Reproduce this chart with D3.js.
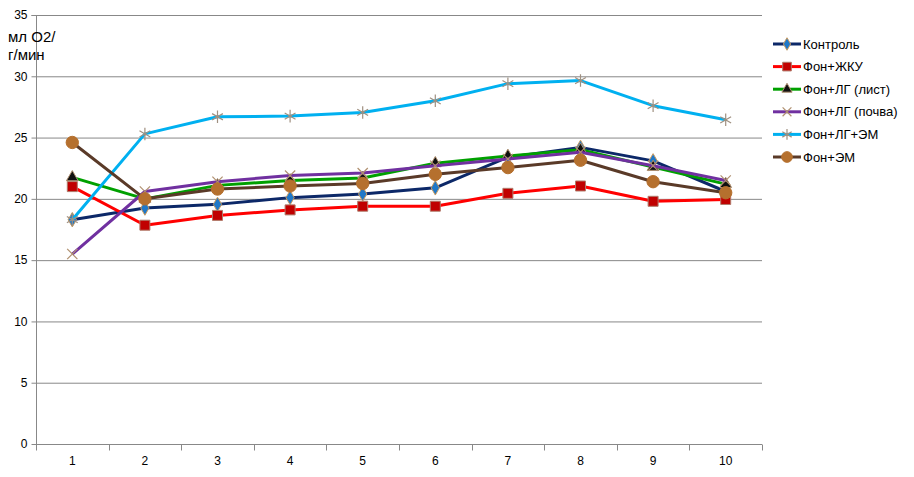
<!DOCTYPE html>
<html><head><meta charset="utf-8">
<script src="https://cdn.jsdelivr.net/npm/d3@7"></script>
<style>body{margin:0;background:#fff}svg{display:block}text{font-family:"Liberation Sans",Arial,sans-serif}</style>
</head><body>
<svg id="c" width="914" height="477"></svg>
<script>
const categories = [1,2,3,4,5,6,7,8,9,10];
const yTicks = [0,5,10,15,20,25,30,35];
const seriesNames = ["Контроль","Фон+ЖКУ","Фон+ЛГ (лист)","Фон+ЛГ (почва)","Фон+ЛГ+ЭМ","Фон+ЭМ"];
const kontrol   = [18.3,19.25,19.55,20.1,20.4,20.9,23.4,24.2,23.1,20.6];
const fonZhku   = [21.0,17.85,18.65,19.1,19.4,19.4,20.45,21.05,19.8,19.95];
const fonLgList = [21.75,20.0,21.1,21.5,21.7,22.9,23.5,24.0,22.6,21.2];
const fonLgPoch = [15.5,20.6,21.4,21.9,22.1,22.7,23.25,23.8,22.7,21.5];
const fonLgEm   = [18.3,25.3,26.7,26.75,27.05,28.0,29.4,29.65,27.6,26.45];
const fonEm     = [24.6,20.0,20.8,21.05,21.25,22.0,22.55,23.15,21.4,20.5];
const yLabel = ["мл О2/","г/мин"];

const styles = [
  {line:"#0c2868", sym:d3.symbolDiamond, size:60, fill:"#1f78c8", stroke:"#c89a60", sw:1},
  {line:"#ff0000", sym:d3.symbolSquare, size:100, fill:"#c00000", stroke:"#b07a6a", sw:1},
  {line:"#00a000", sym:d3.symbolTriangle, size:60, fill:"#101010", stroke:"#b09070", sw:1},
  {line:"#7030a0", sym:d3.symbolX, size:70, fill:"none", stroke:"#b09070", sw:1.2},
  {line:"#00b0f0", sym:d3.symbolAsterisk, size:110, fill:"none", stroke:"#a09080", sw:1.2},
  {line:"#5a3a28", sym:d3.symbolCircle, size:120, fill:"#b5702e", stroke:"#b5702e", sw:1}
];
const data = [kontrol,fonZhku,fonLgList,fonLgPoch,fonLgEm,fonEm];

const svg = d3.select("#c");
const L=36, R=762, T=15, B=444;
const x = d3.scaleBand().domain(categories).range([L,R]).paddingInner(0).paddingOuter(0);
const y = d3.scaleLinear().domain([0,35]).range([B,T]);
const cx = d => x(d)+x.bandwidth()/2;

// gridlines
svg.append("g").selectAll("line").data(yTicks.filter(t=>t>0)).join("line")
  .attr("x1",L).attr("x2",R).attr("y1",d=>y(d)+0.5).attr("y2",d=>y(d)+0.5)
  .attr("stroke","#888").attr("stroke-width",1);

// y axis
const ya = svg.append("g").attr("transform",`translate(${L+0.5},0)`)
  .call(d3.axisLeft(y).tickValues(yTicks).tickSize(5).tickPadding(4).tickFormat(d3.format("d")));
ya.selectAll("path,line").attr("stroke","#888");
ya.select(".domain").attr("d",`M-5,${y(35)+0.5}H0V${B+0.5}`);
ya.selectAll("text").attr("font-size",12).attr("fill","#000").attr("font-family","Liberation Sans, Arial, sans-serif");

// x axis
const xa = svg.append("g").attr("transform",`translate(0,${B+0.5})`)
  .call(d3.axisBottom(x).tickSize(0).tickPadding(12));
xa.select(".domain").attr("stroke","#888").attr("d",`M${L},0H${R}`);
xa.selectAll("text").attr("font-size",12).attr("fill","#000").attr("font-family","Liberation Sans, Arial, sans-serif");
const bounds = categories.map(c=>x(c)).concat([R]);
xa.selectAll(".bt").data(bounds).join("line").attr("class","bt")
  .attr("x1",d=>Math.round(d)+0.5).attr("x2",d=>Math.round(d)+0.5).attr("y1",0).attr("y2",6).attr("stroke","#888");

// y label
svg.append("text").attr("x",8).attr("y",42).attr("font-size",15).text(yLabel[0]);
svg.append("text").attr("x",8).attr("y",60).attr("font-size",15).text(yLabel[1]);

// series
const line = d3.line().x((d,i)=>cx(categories[i])).y(d=>y(d));
data.forEach((vals,si)=>{
  const s = styles[si];
  const g = svg.append("g");
  g.append("path").attr("d",line(vals)).attr("fill","none").attr("stroke",s.line).attr("stroke-width",3).attr("stroke-linejoin","round");
  g.selectAll("path.m").data(vals).join("path").attr("class","m")
    .attr("transform",(d,i)=>`translate(${cx(categories[i])},${y(d)})`)
    .attr("d",d3.symbol(s.sym,s.size)).attr("fill",s.fill).attr("stroke",s.stroke).attr("stroke-width",s.sw);
});

// legend
const lg = svg.append("g");
seriesNames.forEach((n,i)=>{
  const yy = 44 + i*22.6;
  const s = styles[i];
  lg.append("line").attr("x1",773).attr("x2",801).attr("y1",yy).attr("y2",yy).attr("stroke",s.line).attr("stroke-width",3);
  lg.append("path").attr("transform",`translate(787,${yy})`).attr("d",d3.symbol(s.sym,s.size*0.75))
    .attr("fill",s.fill).attr("stroke",s.stroke).attr("stroke-width",s.sw);
  lg.append("text").attr("x",803).attr("y",yy+4.5).attr("font-size",13).text(n);
});
</script>
</body></html>
